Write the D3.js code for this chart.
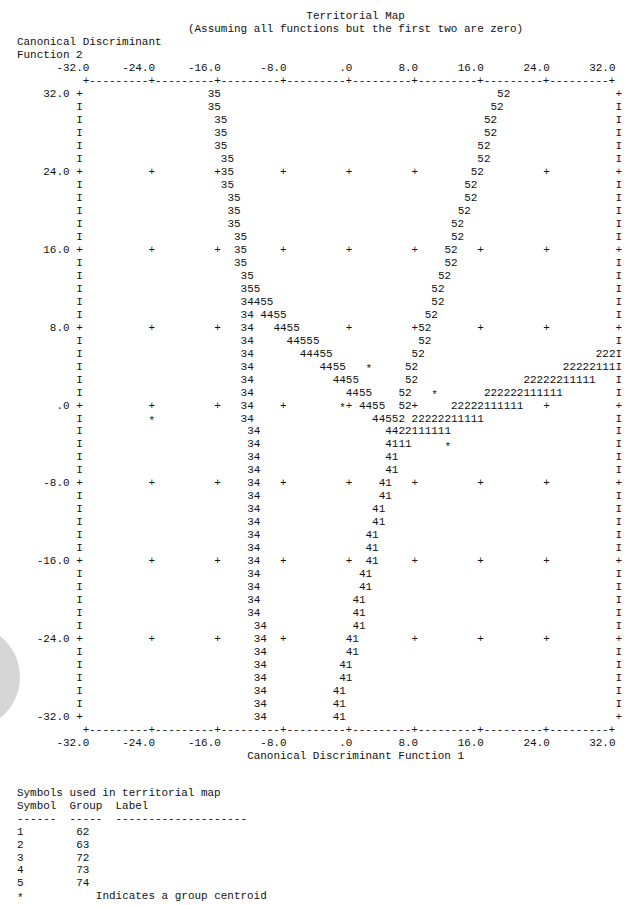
<!DOCTYPE html>
<meta charset="utf-8">
<style>
  body { margin: 0; background: #fff; }
  text { font-family: "Liberation Mono", "DejaVu Sans Mono", monospace; fill: #111; }
</style>
<svg id="mainSVG" width="629" height="905"></svg>
<script src="https://d3js.org/d3.v7.min.js"></script>
<script>
  // axis ticks
  var xTicks = [-32, -24, -16, -8, 0, 8, 16, 24, 32];
  var xTickLabels = ["-32.0", "-24.0", "-16.0", "-8.0", ".0", "8.0", "16.0", "24.0", "32.0"];
  var yTicks = [32, 24, 16, 8, 0, -8, -16, -24, -32];
  var yTickLabels = ["32.0", "24.0", "16.0", "8.0", ".0", "-8.0", "-16.0", "-24.0", "-32.0"];

  // territory boundaries: [map line (0 = top row), function 1 value of first symbol, symbols]
  var runs35 = [
    [0, -16.8, "35"], [1, -16.8, "35"], [2, -16.0, "35"], [3, -16.0, "35"], [4, -16.0, "35"],
    [5, -15.2, "35"], [6, -15.2, "35"], [7, -15.2, "35"], [8, -14.4, "35"], [9, -14.4, "35"],
    [10, -14.4, "35"], [11, -13.6, "35"], [12, -13.6, "35"], [13, -13.6, "35"], [14, -12.8, "35"],
    [15, -12.8, "355"]
  ];
  var runs34 = [
    [16, -12.8, "34"], [17, -12.8, "34"], [18, -12.8, "34"], [19, -12.8, "34"], [20, -12.8, "34"],
    [21, -12.8, "34"], [22, -12.8, "34"], [23, -12.8, "34"], [24, -12.8, "34"], [25, -12.8, "34"],
    [26, -12.0, "34"], [27, -12.0, "34"], [28, -12.0, "34"], [29, -12.0, "34"], [30, -12.0, "34"],
    [31, -12.0, "34"], [32, -12.0, "34"], [33, -12.0, "34"], [34, -12.0, "34"], [35, -12.0, "34"],
    [36, -12.0, "34"], [37, -12.0, "34"], [38, -12.0, "34"], [39, -12.0, "34"], [40, -12.0, "34"],
    [41, -11.2, "34"], [42, -11.2, "34"], [43, -11.2, "34"], [44, -11.2, "34"], [45, -11.2, "34"],
    [46, -11.2, "34"], [47, -11.2, "34"], [48, -11.2, "34"]
  ];
  var runs45 = [
    [16, -11.2, "455"], [17, -10.4, "4455"], [18, -8.8, "4455"], [19, -7.2, "44555"],
    [20, -5.6, "44455"], [21, -3.2, "4455"], [22, -1.6, "4455"], [23, 0.0, "4455"],
    [24, 1.6, "4455"], [25, 3.2, "44552"]
  ];
  var runs52 = [
    [0, 18.4, "52"], [1, 17.6, "52"], [2, 16.8, "52"], [3, 16.8, "52"], [4, 16.0, "52"],
    [5, 16.0, "52"], [6, 15.2, "52"], [7, 14.4, "52"], [8, 14.4, "52"], [9, 13.6, "52"],
    [10, 12.8, "52"], [11, 12.8, "52"], [12, 12.0, "52"], [13, 12.0, "52"], [14, 11.2, "52"],
    [15, 10.4, "52"], [16, 10.4, "52"], [17, 9.6, "52"], [18, 8.8, "52"], [19, 8.8, "52"],
    [20, 8.0, "52"], [21, 7.2, "52"], [22, 7.2, "52"], [23, 6.4, "52"], [24, 6.4, "52"]
  ];
  var runs21 = [
    [20, 30.4, "222"], [21, 26.4, "22222111"], [22, 21.6, "22222211111"],
    [23, 16.8, "222222111111"], [24, 12.8, "22222111111"], [25, 8.0, "22222211111"],
    [26, 4.8, "4422111111"], [27, 4.8, "4111"]
  ];
  var runs41 = [
    [28, 4.8, "41"], [29, 4.8, "41"], [30, 4.0, "41"], [31, 4.0, "41"], [32, 3.2, "41"],
    [33, 3.2, "41"], [34, 2.4, "41"], [35, 2.4, "41"], [36, 2.4, "41"], [37, 1.6, "41"],
    [38, 1.6, "41"], [39, 0.8, "41"], [40, 0.8, "41"], [41, 0.8, "41"], [42, 0.0, "41"],
    [43, 0.0, "41"], [44, -0.8, "41"], [45, -0.8, "41"], [46, -1.6, "41"], [47, -1.6, "41"],
    [48, -1.6, "41"]
  ];

  // groups and centroids
  var groupSymbols = ["1", "2", "3", "4", "5"];
  var groupNames = ["62", "63", "72", "73", "74"];
  var centroidF1 = [12.0, 10.4, -24.0, -0.8, 2.4];
  var centroidF2 = [-4.0, 1.33, -1.33, 0.0, 4.0];

  var svg = d3.select("svg"),
      width = +svg.attr("width"),
      height = +svg.attr("height");

  var x = d3.scaleLinear().domain([-32, 32]).range([86, 612.2]);
  var y = d3.scaleLinear().domain([32, -32]).range([93.3, 715.9]);

  var step = 0.8, lineStep = 4 / 3;
  var cw = x(-32 + step) - x(-32);
  var lh = y(32 - lineStep) - y(32);
  var fontSize = cw / 0.6;

  function colX(c) { return x(-32 + c * step); }
  function lineY(l) { return y(32 - l * lineStep); }
  function colOf(v) { return Math.round((v + 32) / step); }

  svg.style("font-size", fontSize + "px");

  // the grey blob at the left edge of the scan
  svg.append("circle")
      .attr("cx", -32).attr("cy", lineY(45)).attr("r", 52)
      .attr("fill", "#d6d6d6");

  function put(g, str, px, py, anchor) {
    return g.append("text")
        .attr("x", px)
        .attr("y", py)
        .attr("dy", "0.36em")
        .attr("text-anchor", anchor || "start")
        .style("white-space", "pre")
        .attr("xml:space", "preserve")
        .text(str);
  }

  // titles
  var head = svg.append("g").attr("class", "titles");
  put(head, "Territorial Map", colX(34) - cw / 2, lineY(-6));
  put(head, "(Assuming all functions but the first two are zero)", colX(16) - cw / 2, lineY(-5));
  put(head, "Canonical Discriminant", colX(-10) - cw / 2, lineY(-4));
  put(head, "Function 2", colX(-10) - cw / 2, lineY(-3));
  put(head, "Canonical Discriminant Function 1", colX(25) - cw / 2, lineY(51));

  // axes
  var axes = svg.append("g").attr("class", "axes");
  var border = d3.range(81).map(function (c) { return c % 10 ? "-" : "+"; }).join("");
  put(axes, border, colX(0) - cw / 2, lineY(-1));
  put(axes, border, colX(0) - cw / 2, lineY(49));

  axes.selectAll("text.xt-top")
      .data(xTicks)
      .enter().append("text")
      .attr("class", "xt-top")
      .attr("x", function (d) { return x(d) + cw / 2; })
      .attr("y", lineY(-2))
      .attr("dy", "0.36em")
      .attr("text-anchor", "end")
      .text(function (d, i) { return xTickLabels[i]; });

  axes.selectAll("text.xt-bot")
      .data(xTicks)
      .enter().append("text")
      .attr("class", "xt-bot")
      .attr("x", function (d) { return x(d) + cw / 2; })
      .attr("y", lineY(50))
      .attr("dy", "0.36em")
      .attr("text-anchor", "end")
      .text(function (d, i) { return xTickLabels[i]; });

  axes.selectAll("text.yt")
      .data(yTicks)
      .enter().append("text")
      .attr("class", "yt")
      .attr("x", colX(-3) + cw / 2)
      .attr("y", function (d) { return y(d); })
      .attr("dy", "0.36em")
      .attr("text-anchor", "end")
      .text(function (d, i) { return yTickLabels[i]; });

  // frame sides
  var lines = d3.range(49);
  [-1, 81].forEach(function (c) {
    axes.selectAll(null)
        .data(lines)
        .enter().append("text")
        .attr("x", colX(c))
        .attr("y", function (l) { return lineY(l); })
        .attr("dy", "0.36em")
        .attr("text-anchor", "middle")
        .text(function (l) { return l % 6 ? "I" : "+"; });
  });

  // territory boundaries
  var runs = [].concat(runs35, runs34, runs45, runs52, runs21, runs41);
  var used = {};
  runs.forEach(function (r) {
    var c0 = colOf(r[1]);
    for (var i = 0; i < r[2].length; i++) used[r[0] + "," + (c0 + i)] = true;
  });
  var centroids = centroidF1.map(function (v, i) { return { f1: v, f2: centroidF2[i] }; });
  centroids.forEach(function (d) {
    used[Math.round((32 - d.f2) / lineStep) + "," + colOf(d.f1)] = true;
  });

  var map = svg.append("g").attr("class", "territories");

  // grid crosses where no boundary sits
  var crosses = [];
  yTicks.slice(1, -1).forEach(function (fy) {
    xTicks.slice(1, -1).forEach(function (fx) {
      var key = Math.round((32 - fy) / lineStep) + "," + colOf(fx);
      if (!used[key]) crosses.push([fx, fy]);
    });
  });
  map.selectAll("text.cross")
      .data(crosses)
      .enter().append("text")
      .attr("class", "cross")
      .attr("x", function (d) { return x(d[0]); })
      .attr("y", function (d) { return y(d[1]); })
      .attr("dy", "0.36em")
      .attr("text-anchor", "middle")
      .text("+");

  map.selectAll("text.run")
      .data(runs)
      .enter().append("text")
      .attr("class", "run")
      .attr("x", function (d) { return x(d[1]) - cw / 2; })
      .attr("y", function (d) { return lineY(d[0]); })
      .attr("dy", "0.36em")
      .text(function (d) { return d[2]; });

  map.selectAll("text.centroid")
      .data(centroids)
      .enter().append("text")
      .attr("class", "centroid")
      .attr("x", function (d) { return x(d.f1); })
      .attr("y", function (d) { return y(d.f2); })
      .attr("dy", "0.55em")
      .attr("text-anchor", "middle")
      .text("*");

  // legend
  var leg = svg.append("g").attr("class", "legend");
  function legY(l) { return lineY(l) - 2; }
  put(leg, "Symbols used in territorial map", colX(-10) - cw / 2, legY(54));
  put(leg, "Symbol  Group  Label", colX(-10) - cw / 2, legY(55));
  put(leg, "------  -----  --------------------", colX(-10) - cw / 2, legY(56));
  groupSymbols.forEach(function (s, i) {
    put(leg, s, colX(-10) - cw / 2, legY(57 + i));
    put(leg, groupNames[i], colX(-1) - cw / 2, legY(57 + i));
  });
  put(leg, "*", colX(-10) - cw / 2, legY(62)).attr("dy", "0.5em");
  put(leg, "Indicates a group centroid", colX(2) - cw / 2, legY(62));
</script>
